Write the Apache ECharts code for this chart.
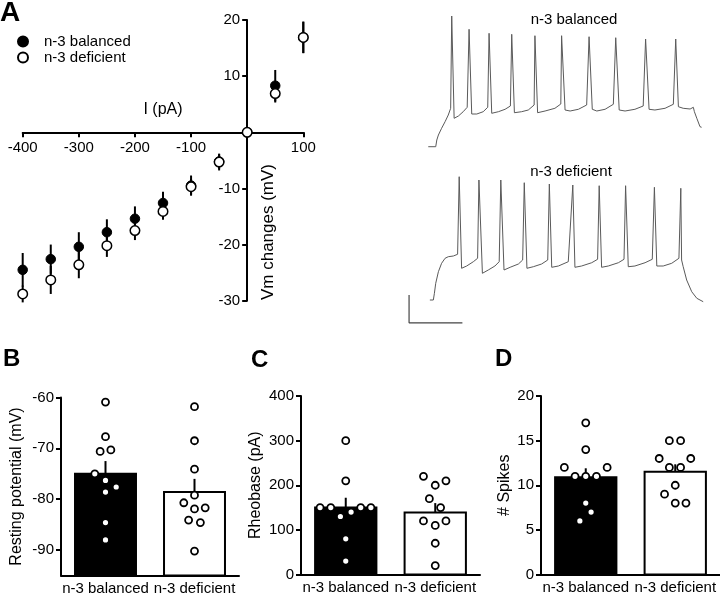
<!DOCTYPE html>
<html><head><meta charset="utf-8">
<script src="https://cdn.jsdelivr.net/npm/echarts/dist/echarts.min.js"></script>
<style>html,body{margin:0;padding:0;background:#fff}#c{width:720px;height:597px}</style>
</head><body><div id="c"></div>
<script>
// ---------- Panel A: I/V relation ----------
const currents = [-400,-350,-300,-250,-200,-150,-100,-50,0,50,100];
const balancedVm = [-24.5,-22.6,-20.4,-17.8,-15.4,-12.6,-9.5,-5.2,0,8.3,16.9];
const balancedSem = [3.0,2.6,2.6,2.3,2.2,2.0,1.8,1.3,0,2.8,2.8];
const deficientVm = [-28.8,-26.3,-23.6,-20.2,-17.5,-14.1,-9.7,-5.3,0,6.9,16.9];
const deficientSem = [1.5,2.5,2.4,2.0,1.7,1.5,1.4,1.5,0,1.6,2.8];

// ---------- Panel A: example traces (time ms, membrane potential mV) ----------
const traceBalancedT = [106,134,138,144,156,169,181,190,194,203,219,237,252,259,269,288,312,329,334,344,369,394,414,419,429,456,481,503,506,516,544,581,603,606,619,638,669,700,709,721,738,769,800,809,822,844,881,912,921,934,956,994,1025,1034,1044,1062,1088,1100,1104,1113,1125,1131];
const traceBalancedV = [-74.7,-74.7,-70.0,-66.5,-61.8,-57.2,-52.5,-47.8,16.8,-54.8,-53.2,-50.2,-47.1,7.5,-51.8,-51.8,-50.2,-47.1,4.7,-51.3,-50.2,-48.5,-46.2,4.0,-50.9,-50.2,-49.0,-45.5,3.0,-50.9,-49.7,-47.8,-44.8,3.0,-49.0,-49.7,-48.5,-45.5,2.3,-48.5,-49.7,-48.5,-45.0,1.6,-49.0,-49.7,-48.5,-46.2,0.7,-48.5,-49.0,-47.8,-45.0,0.7,-46.7,-47.8,-48.3,-47.1,-50.2,-54.8,-60.7,-61.1];
const traceDeficientT = [112,125,129,134,144,156,169,181,200,216,222,231,250,275,291,296,309,331,356,372,378,390,413,444,460,466,476,500,531,554,560,569,594,631,648,656,681,719,741,747,756,781,819,840,846,856,881,919,946,954,963,987,1019,1046,1053,1056,1062,1075,1094,1113,1137];
const traceDeficientV = [-78.0,-78.0,-73.3,-66.3,-58.2,-52.3,-48.8,-47.7,-47.2,-46.0,8.3,-55.8,-54.2,-51.2,-48.8,6.0,-59.3,-57.0,-54.2,-51.2,6.0,-57.0,-55.1,-52.8,-50.0,4.1,-55.8,-54.7,-52.8,-50.0,3.2,-55.1,-54.2,-51.2,2.5,-55.1,-54.2,-51.9,-49.5,2.0,-55.1,-54.2,-51.9,-49.5,2.0,-54.7,-54.2,-51.9,-49.5,0.9,-54.2,-54.2,-52.3,-48.8,0.2,-50.0,-54.7,-64.0,-72.2,-76.8,-79.2];
const scaleBarT = [34,34,234];      // 200 ms
const scaleBarV = [-74.5,-94,-94];  // ~20 mV

// ---------- Panels B, C, D ----------
const groups = ['n-3 balanced','n-3 deficient'];
const restBalanced = [-60.9,-67.7,-70.6,-70.3,-75.0,-76.3,-77.6,-78.6,-84.6,-88.0];
const restDeficient = [-61.8,-68.5,-74.1,-79.2,-80.7,-81.9,-81.7,-84.1,-84.6,-90.2];
const restMean = [-75.0,-78.6];
const restSem = [2.5,2.6];

const rheoBalanced = [300,210,150,150,150,150,130,140,80,30];
const rheoDeficient = [220,200,210,170,150,120,110,120,70,20];
const rheoMean = [150,139];
const rheoSem = [22,21];

const spikesBalanced = [17,14,12,12,11,11,11,8,7,6];
const spikesDeficient = [15,15,13,13,12,12,10,9,8,8];
const spikesMean = [10.9,11.5];
const spikesSem = [1.0,0.85];

// layout: horizontal scatter offsets of dots (in dot-spacing units)
const LAYOUT = {
  dotSpacing: 10.7,
  restJitter: [[0,0,-0.5,0.5,-1,0,1,0,0,0],[0,0,0,0,-1,0,1,-0.55,0.55,0]],
  rheoJitter: [[0,0,-2.4,-1.4,1.4,2.35,-0.5,0.5,0,0],[-1.1,0,1.0,-0.55,0.5,-1.1,0,1.0,0,0]],
  spikesJitter: [[0,0,-2,2,-1,0,1,0,0.5,-0.55],[-0.55,0.5,-1.5,1.45,-0.55,0.5,0,-1,0,1]]
};

const FONT = 'Liberation Sans, Arial, Helvetica, sans-serif';
const black = '#000';

function errA(params, api) {
  const x = api.value(0), m = api.value(1), s = api.value(2);
  const p1 = api.coord([x, m - s]), p2 = api.coord([x, m + s]);
  return {type:'line', shape:{x1:p1[0],y1:p1[1],x2:p2[0],y2:p2[1]}, style:{stroke:black, lineWidth:2}};
}
function barRender(minVal, fills) {
  return function(params, api) {
    const c = api.value(0), m = api.value(1), s = api.value(2);
    const top = api.coord([c, m]), base = api.coord([c, minVal]), eTop = api.coord([c, m + s]);
    const band = Math.abs(api.coord([1, m])[0] - api.coord([0, m])[0]);
    const w = band * 0.685;
    return {type:'group', children:[
      {type:'rect', shape:{x:top[0]-w/2, y:top[1], width:w, height:base[1]-top[1]}, style:{fill:fills[c], stroke:black, lineWidth:2}},
      {type:'line', shape:{x1:top[0],y1:top[1],x2:eTop[0],y2:eTop[1]}, style:{stroke:black, lineWidth:2}}
    ]};
  };
}
function dotRender(jit) {
  return function(params, api) {
    const c = api.value(0), v = api.value(1), k = api.value(2);
    const p = api.coord([c, v]);
    return {type:'circle', shape:{cx:p[0] + jit[c][k]*LAYOUT.dotSpacing, cy:p[1], r:3.5}, style:{fill:'#fff', stroke:black, lineWidth:1.8}};
  };
}
function dotData(a, b) {
  return a.map((v,i)=>[0,v,i]).concat(b.map((v,i)=>[1,v,i]));
}
function barData(mean, sem) { return mean.map((m,i)=>[i,m,sem[i]]); }

const axisLineStyle = {color:black, width:2};
function catAxis(gi) {
  return {type:'category', gridIndex:gi, data:groups, boundaryGap:true,
    axisLine:{onZero:false, lineStyle:axisLineStyle},
    axisTick:{alignWithLabel:true, length:5, lineStyle:{color:black,width:2}},
    axisLabel:{color:black, fontSize:15, fontFamily:FONT, margin:6, interval:0, hideOverlap:false},
    splitLine:{show:false}};
}
function valAxis(gi, extra) {
  return Object.assign({type:'value', gridIndex:gi,
    axisLine:{show:true, onZero:false, lineStyle:axisLineStyle},
    axisTick:{show:true, length:5, lineStyle:{color:black,width:2}},
    axisLabel:{color:black, fontSize:15, fontFamily:FONT, margin:7},
    splitLine:{show:false},
    nameLocation:'middle', nameTextStyle:{color:black, fontSize:16, fontFamily:FONT}}, extra);
}

// Panel A grid geometry (axes cross at 0,0)
const gA = {left:22.7, top:20, width:280.6, height:280.7};
const xMinA = -400, xMaxA = 100, yMinA = -30, yMaxA = 20;
const xAxisShift = gA.height * (0 - yMinA) / (yMaxA - yMinA);
const yAxisShift = gA.width * (0 - xMinA) / (xMaxA - xMinA);

const chart = echarts.init(document.getElementById('c'), null, {renderer:'canvas'});
const option = {
  animation:false,
  backgroundColor:'#fff',
  textStyle:{fontFamily:FONT},
  grid:[
    Object.assign({containLabel:false, outerBoundsMode:'none'}, gA),
    {left:400, top:0, width:320, height:160, containLabel:false, outerBoundsMode:'none'},
    {left:400, top:160, width:320, height:170, containLabel:false, outerBoundsMode:'none'},
    {left:61, top:397.5, width:178, height:178, containLabel:false, outerBoundsMode:'none'},
    {left:301, top:396, width:179, height:178.5, containLabel:false, outerBoundsMode:'none'},
    {left:541, top:396, width:179, height:178.5, containLabel:false, outerBoundsMode:'none'}
  ],
  legend:{orient:'vertical', left:12, top:29, itemWidth:32, itemHeight:10, itemGap:1, symbolKeepAspect:true,
    selectedMode:false, textStyle:{fontSize:15, color:black, fontFamily:FONT},
    data:[{name:'n-3 balanced', icon:'circle'},{name:'n-3 deficient', icon:'circle'}]},
  xAxis:[
    {type:'value', gridIndex:0, min:xMinA, max:xMaxA, interval:100, position:'bottom', offset:-xAxisShift,
      axisLine:{onZero:false, lineStyle:axisLineStyle},
      axisTick:{show:true, length:5, lineStyle:{color:black,width:2}},
      axisLabel:{color:black, fontSize:15, fontFamily:FONT, margin:8, formatter:v=> v===0 ? '' : String(v)},
      splitLine:{show:false}},
    {type:'value', gridIndex:1, min:0, max:1200, show:false},
    {type:'value', gridIndex:2, min:0, max:1200, show:false},
    catAxis(3), catAxis(4), catAxis(5)
  ],
  yAxis:[
    {type:'value', gridIndex:0, min:yMinA, max:yMaxA, interval:10, position:'left', offset:-yAxisShift,
      axisLine:{show:true, onZero:false, lineStyle:axisLineStyle},
      axisTick:{show:true, length:5, lineStyle:{color:black,width:2}},
      axisLabel:{color:black, fontSize:15, fontFamily:FONT, margin:7, formatter:v=> v===0 ? '' : String(v)},
      splitLine:{show:false}},
    {type:'value', gridIndex:1, min:-84, max:28, show:false},
    {type:'value', gridIndex:2, min:-99, max:20, show:false},
    valAxis(3, {min:-95, max:-60, name:'Resting potential (mV)', nameGap:36,
      axisLabel:{color:black, fontSize:15, fontFamily:FONT, margin:7, customValues:[-90,-80,-70,-60]},
      axisTick:{show:true, length:5, lineStyle:{color:black,width:2}, customValues:[-90,-80,-70,-60]}}),
    valAxis(4, {min:0, max:400, interval:100, name:'Rheobase (pA)', nameGap:37}),
    valAxis(5, {min:0, max:20, interval:5, name:'# Spikes', nameGap:28})
  ],
  graphic:[
    {type:'text', x:0, y:13, style:{text:'A', font:'bold 28px '+FONT, fill:black, align:'left', textAlign:'left', verticalAlign:'middle', textVerticalAlign:'middle'}},
    {type:'text', x:3, y:359, style:{text:'B', font:'bold 24px '+FONT, fill:black, align:'left', textAlign:'left', verticalAlign:'middle', textVerticalAlign:'middle'}},
    {type:'text', x:251, y:360, style:{text:'C', font:'bold 24px '+FONT, fill:black, align:'left', textAlign:'left', verticalAlign:'middle', textVerticalAlign:'middle'}},
    {type:'text', x:495, y:359, style:{text:'D', font:'bold 24px '+FONT, fill:black, align:'left', textAlign:'left', verticalAlign:'middle', textVerticalAlign:'middle'}},
    {type:'text', x:163, y:110, style:{text:'I (pA)', font:'16px '+FONT, fill:black, align:'center', textAlign:'center', verticalAlign:'middle', textVerticalAlign:'middle'}},
    {type:'text', x:268, y:232, rotation:Math.PI/2, style:{text:'Vm changes (mV)', font:'17px '+FONT, fill:black, align:'center', textAlign:'center', verticalAlign:'middle', textVerticalAlign:'middle'}},
    {type:'text', x:574, y:20, style:{text:'n-3 balanced', font:'15px '+FONT, fill:black, align:'center', textAlign:'center', verticalAlign:'middle', textVerticalAlign:'middle'}},
    {type:'text', x:571, y:172, style:{text:'n-3 deficient', font:'15px '+FONT, fill:black, align:'center', textAlign:'center', verticalAlign:'middle', textVerticalAlign:'middle'}}
  ],
  series:[
    {type:'custom', xAxisIndex:0, yAxisIndex:0, renderItem:errA, encode:{x:0,y:1}, z:2,
      data:currents.map((c,i)=>[c, balancedVm[i], balancedSem[i]])},
    {type:'scatter', name:'n-3 balanced', xAxisIndex:0, yAxisIndex:0, symbol:'circle', symbolSize:9.5, z:3,
      itemStyle:{color:black, borderColor:black, borderWidth:1, opacity:1},
      data:currents.map((c,i)=>[c, balancedVm[i]])},
    {type:'custom', xAxisIndex:0, yAxisIndex:0, renderItem:errA, encode:{x:0,y:1}, z:4,
      data:currents.map((c,i)=>[c, deficientVm[i], deficientSem[i]])},
    {type:'scatter', name:'n-3 deficient', xAxisIndex:0, yAxisIndex:0, symbol:'circle', symbolSize:9.5, z:5,
      itemStyle:{color:'#fff', borderColor:black, borderWidth:1.5, opacity:1},
      data:currents.map((c,i)=>[c, deficientVm[i]])},

    {type:'line', xAxisIndex:1, yAxisIndex:1, showSymbol:false, silent:true,
      lineStyle:{color:'#5a5a5a', width:1}, data:traceBalancedT.map((t,i)=>[t, traceBalancedV[i]])},
    {type:'line', xAxisIndex:2, yAxisIndex:2, showSymbol:false, silent:true,
      lineStyle:{color:'#5a5a5a', width:1}, data:traceDeficientT.map((t,i)=>[t, traceDeficientV[i]])},
    {type:'line', xAxisIndex:2, yAxisIndex:2, showSymbol:false, silent:true,
      lineStyle:{color:'#444', width:1.2}, data:scaleBarT.map((t,i)=>[t, scaleBarV[i]])},

    {type:'custom', xAxisIndex:3, yAxisIndex:3, renderItem:barRender(-95, ['#000','#fff']), encode:{x:0,y:1}, data:barData(restMean, restSem)},
    {type:'custom', xAxisIndex:3, yAxisIndex:3, renderItem:dotRender(LAYOUT.restJitter), encode:{x:0,y:1}, z:3, data:dotData(restBalanced, restDeficient)},
    {type:'custom', xAxisIndex:4, yAxisIndex:4, renderItem:barRender(0, ['#000','#fff']), encode:{x:0,y:1}, data:barData(rheoMean, rheoSem)},
    {type:'custom', xAxisIndex:4, yAxisIndex:4, renderItem:dotRender(LAYOUT.rheoJitter), encode:{x:0,y:1}, z:3, data:dotData(rheoBalanced, rheoDeficient)},
    {type:'custom', xAxisIndex:5, yAxisIndex:5, renderItem:barRender(0, ['#000','#fff']), encode:{x:0,y:1}, data:barData(spikesMean, spikesSem)},
    {type:'custom', xAxisIndex:5, yAxisIndex:5, renderItem:dotRender(LAYOUT.spikesJitter), encode:{x:0,y:1}, z:3, data:dotData(spikesBalanced, spikesDeficient)}
  ]
};
chart.setOption(option);
</script>
</body></html>
